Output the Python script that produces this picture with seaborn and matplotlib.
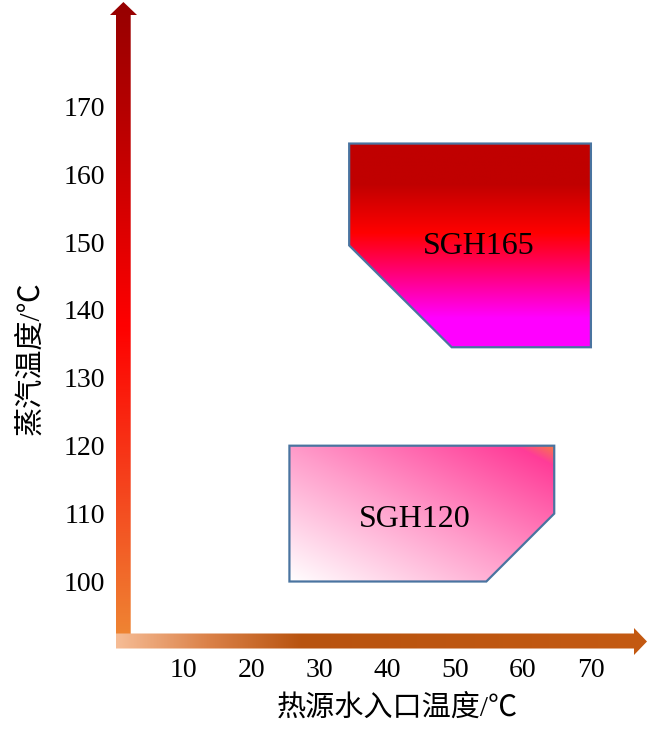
import matplotlib
matplotlib.use("Agg")
import matplotlib.pyplot as plt
import numpy as np
import seaborn as sns
from matplotlib.colors import LinearSegmentedColormap
from matplotlib.patches import Polygon

# axis ticks
x_ticks = [10, 20, 30, 40, 50, 60, 70]
y_ticks = [100, 110, 120, 130, 140, 150, 160, 170]

# operating envelopes: heat-source inlet temp (x) vs steam temp (y)
sgh165_x = [34.4, 70, 70, 49.5, 34.4]
sgh165_y = [164.5, 164.5, 134.5, 134.5, 149.5]
sgh120_x = [25.6, 64.6, 64.6, 54.6, 25.6]
sgh120_y = [120, 120, 110, 100, 100]
model_names = ["SGH165", "SGH120"]

x_label = "热源水入口温度/℃"
y_label = "蒸汽温度/℃"

# figure geometry (pixels) -> data mapping, used for the axes box and the arrows
W, H, DPI = 650, 745, 100
PX = 6.79        # pixels per degree
X0 = 115.6       # pixel column of x = 0
Y100 = 581.5     # pixel row of y = 100


def dx(px):
    return (px - X0) / PX


def dy(py):
    return 100 + (Y100 - py) / PX


sns.set_theme(style="white")
plt.rcParams["font.family"] = ["Liberation Serif", "Noto Sans CJK SC"]
plt.rcParams["text.color"] = "black"
plt.rcParams["axes.labelcolor"] = "black"

fig = plt.figure(figsize=(W / DPI, H / DPI), dpi=DPI)
ax_left, ax_bottom = 131, 633
ax = fig.add_axes([ax_left / W, (H - ax_bottom) / H, (W - ax_left) / W, ax_bottom / H])


def gradient_shape(xs, ys, cmap, direction, edge="none", lw=0, zorder=2):
    poly = Polygon(np.column_stack([xs, ys]), closed=True, facecolor="none",
                   edgecolor=edge, linewidth=lw, zorder=zorder + 0.1, clip_on=False)
    ax.add_patch(poly)
    n = 256
    u, v = np.meshgrid(np.linspace(0, 1, n), np.linspace(0, 1, n))
    g = {"x": u, "y": v, "diag": (u + v) / 2}[direction]
    im = ax.imshow(g, cmap=cmap, vmin=0, vmax=1, origin="lower", aspect="auto",
                   interpolation="bilinear", zorder=zorder,
                   extent=[min(xs), max(xs), min(ys), max(ys)])
    im.set_clip_path(poly)
    im.set_clip_box(fig.bbox)
    return poly


y_arrow_cmap = sns.blend_palette(["#EE8A35", "#F5431D", "#FF0000", "#C60000", "#960000"], as_cmap=True)
x_arrow_cmap = LinearSegmentedColormap.from_list(
    "xarrow", [(0, "#F6BC95"), (0.17, "#DB8249"), (0.35, "#B8530F"), (1, "#C45A12")])
sgh165_cmap = LinearSegmentedColormap.from_list(
    "sgh165", [(0, "#FF00FF"), (0.14, "#FF00FF"), (0.56, "#FF0000"), (0.8, "#C00000"), (1, "#C00000")])
sgh120_cmap = LinearSegmentedColormap.from_list(
    "sgh120", [(0, "#FFFFFF"), (0.5, "#FF9AC9"), (0.93, "#FF3C98"), (1, "#F5784A")])

# axis arrows
y_arrow = [(116, 648), (130.7, 648), (130.7, 15), (137, 15), (123.4, 2), (110, 15), (116, 15)]
x_arrow = [(116, 633.5), (634, 633.5), (634, 628), (647, 641.5), (634, 655), (634, 648.5), (116, 648.5)]
gradient_shape([dx(p[0]) for p in y_arrow], [dy(p[1]) for p in y_arrow], y_arrow_cmap, "y", zorder=3)
gradient_shape([dx(p[0]) for p in x_arrow], [dy(p[1]) for p in x_arrow], x_arrow_cmap, "x", zorder=4)

# envelopes
gradient_shape(sgh165_x, sgh165_y, sgh165_cmap, "y", edge="#4A74A0", lw=1.6)
gradient_shape(sgh120_x, sgh120_y, sgh120_cmap, "diag", edge="#4A74A0", lw=1.6)
ax.text(53.5, 149.3, model_names[0], ha="center", va="center", fontsize=23, color="black", zorder=5)
ax.text(44.0, 109.1, model_names[1], ha="center", va="center", fontsize=23, color="black", zorder=5)

ax.set_xlim(dx(ax_left), dx(W))
ax.set_ylim(dy(ax_bottom), dy(0))
ax.set_xticks(x_ticks)
ax.set_yticks(y_ticks)
ax.tick_params(axis="both", direction="in", length=6, width=3, color="#5B9BD5",
               labelsize=20, labelcolor="black")
ax.tick_params(axis="y", pad=18.5)
ax.tick_params(axis="x", pad=18)
sns.despine(ax=ax, left=True, bottom=True)
ax.grid(False)

ax.set_xlabel(x_label, fontsize=21)
ax.set_ylabel(y_label, fontsize=21)
ax.xaxis.set_label_coords((397 - ax_left) / (W - ax_left), -(694 - ax_bottom) / ax_bottom)
ax.yaxis.set_label_coords(-(ax_left - 44) / (W - ax_left), (ax_bottom - 358) / ax_bottom)

fig.savefig("out.png", dpi=DPI)
